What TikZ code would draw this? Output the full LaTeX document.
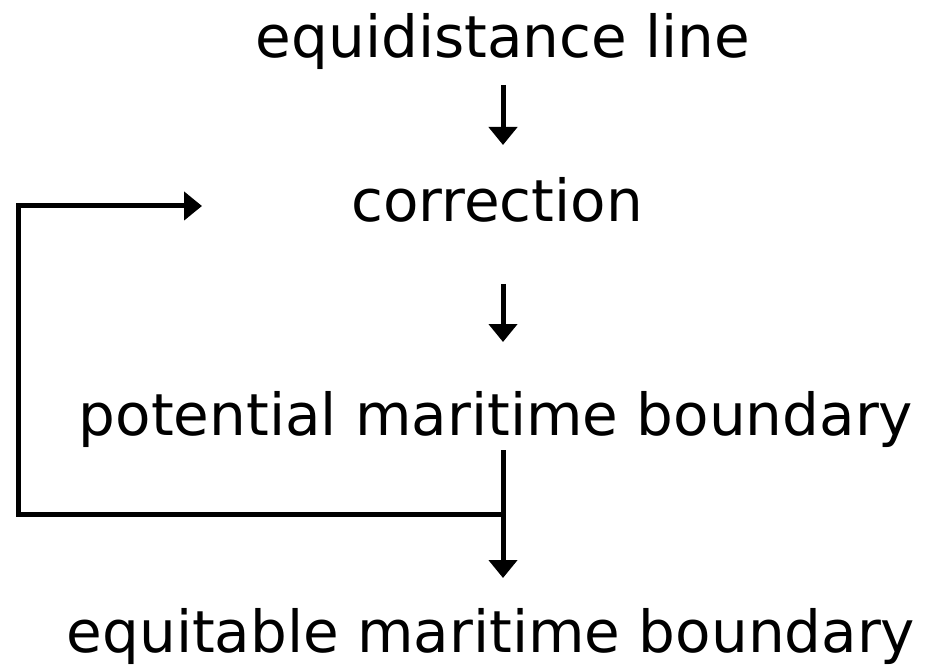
\documentclass[tikz,border=0pt]{standalone}
\usepackage{fontspec}
\setmainfont{DejaVu Sans}
\usetikzlibrary{arrows.meta}
\begin{document}
\begin{tikzpicture}[x=1pt,y=-1pt,
  lbl/.style={anchor=base,inner sep=0pt,font=\fontsize{58}{66}\selectfont},
  conn/.style={line width=5pt,-{Triangle[length=18pt,width=28pt]}}]
\useasboundingbox (0,0) rectangle (934,668);
\node[lbl] (eq) at (503,58) {equidistance line};
\node[lbl] (corr) at (497,222) {correction};
\node[lbl] (pot) at (496,435) {potential maritime boundary};
\node[lbl] (equit) at (491,652) {equitable maritime boundary};
\coordinate (a1s) at (503,85);
\coordinate (a1e) at (503,145);
\coordinate (a2s) at (503,284);
\coordinate (a2e) at (503,342);
\coordinate (a3s) at (503,450);
\coordinate (a3e) at (503,578);
\coordinate (j) at (503,514);
\coordinate (bl) at (18,514);
\coordinate (tl) at (18,206);
\coordinate (te) at (202,206);
\draw[conn] (a1s) -- (a1e);
\draw[conn] (a2s) -- (a2e);
\draw[conn] (a3s) -- (a3e);
\draw[conn] (j) -- (bl) -- (tl) -- (te);
\end{tikzpicture}
\end{document}
